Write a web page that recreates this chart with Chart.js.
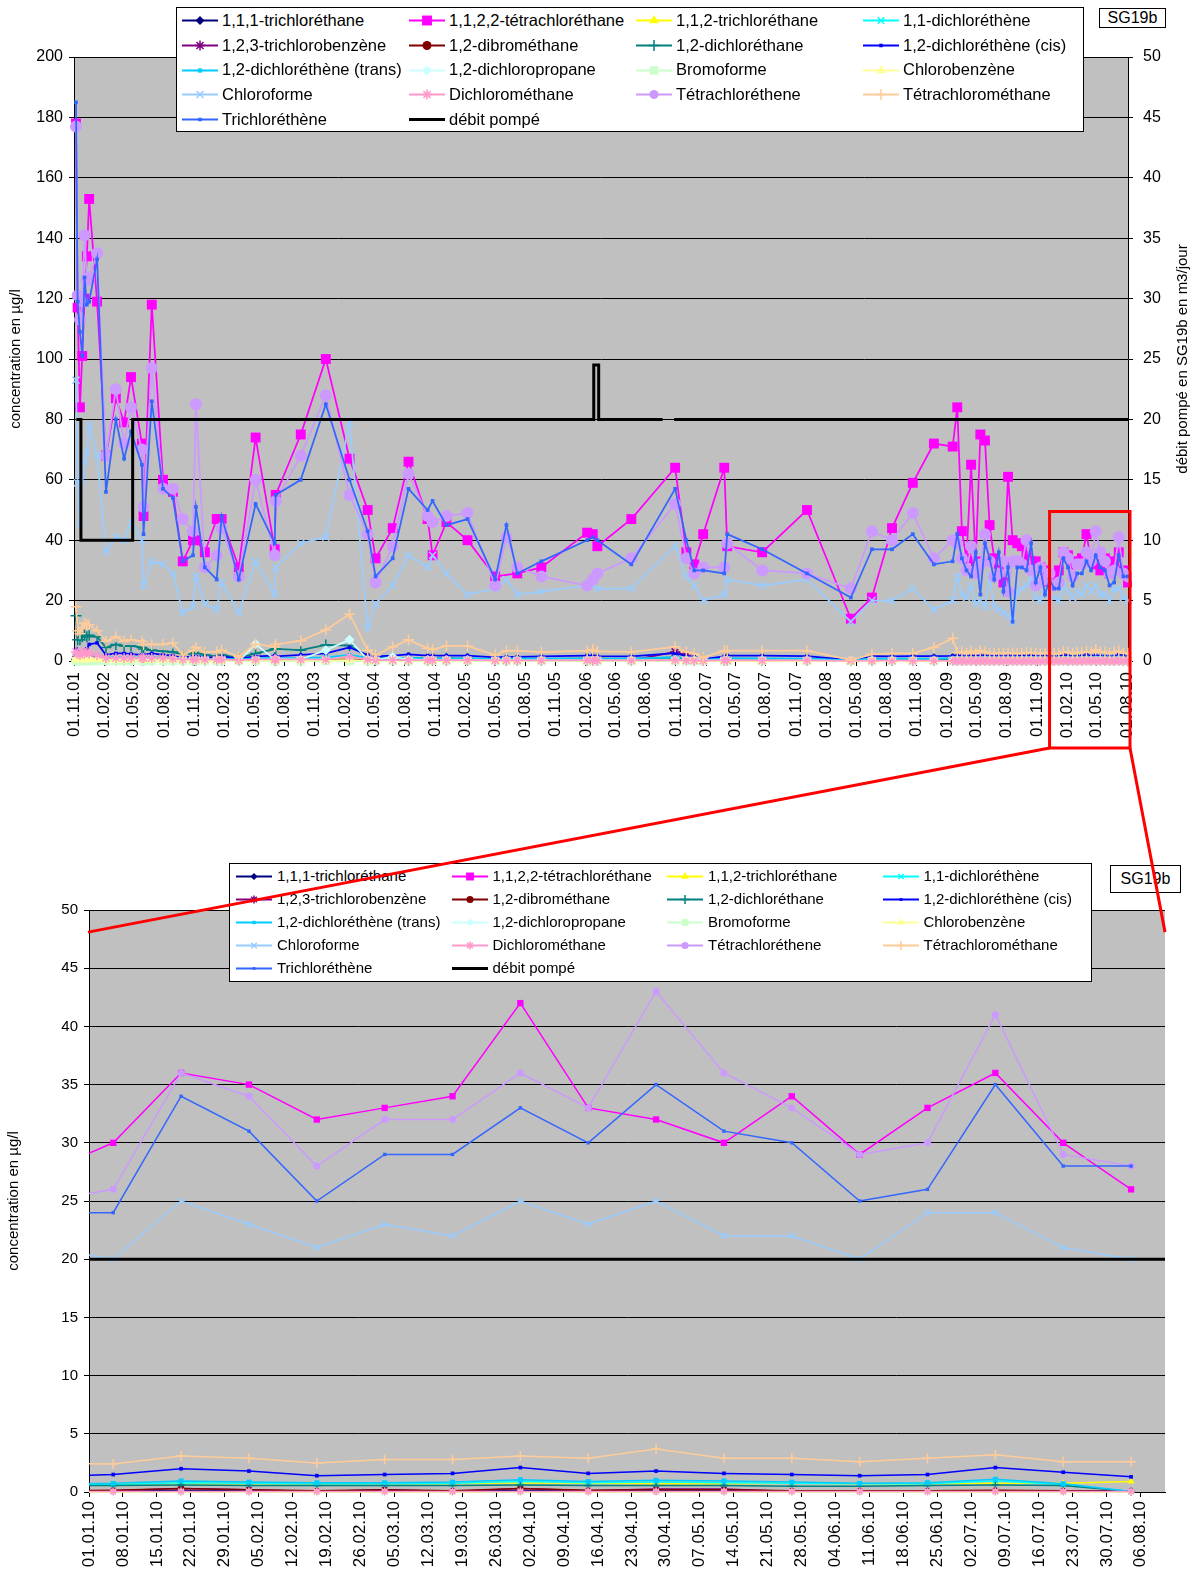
<!DOCTYPE html>
<html><head><meta charset="utf-8">
<script src="https://cdn.jsdelivr.net/npm/chart.js@4.4.1/dist/chart.umd.min.js"></script>
<style>
html,body{margin:0;padding:0;background:#fff;}
body{width:1195px;height:1573px;position:relative;overflow:hidden;font-family:"Liberation Sans",Arial,sans-serif;}
canvas.chart{position:absolute;left:0;}
#topc{top:0;}
#botc{top:840px;}
.legend{position:absolute;background:#fff;border:1px solid #000;box-sizing:border-box;display:grid;z-index:5;}
.item{display:flex;align-items:center;white-space:nowrap;color:#000;}
.item canvas{display:block;flex:none;}
.tag{position:absolute;border:1px solid #000;background:#fff;box-sizing:border-box;text-align:center;color:#000;font-size:16px;z-index:5;}
#overlay{position:absolute;left:0;top:0;pointer-events:none;z-index:10;}
#rtitle{position:absolute;width:400px;height:18px;line-height:18px;text-align:center;font-size:15px;color:#000;transform:rotate(-90deg);}
</style></head>
<body>
<canvas id="topc" class="chart" width="1195" height="760"></canvas>
<canvas id="botc" class="chart" width="1195" height="733"></canvas>
<div id="rtitle">débit pompé en SG19b en m3/jour</div>
<div id="legTop" class="legend"></div>
<div id="legBot" class="legend"></div>
<div class="tag" style="left:1099px;top:8px;width:67px;height:20px;line-height:18px;">SG19b</div>
<div class="tag" style="left:1110px;top:865px;width:71px;height:28px;line-height:26px;">SG19b</div>
<canvas id="overlay" width="1195" height="1573"></canvas>
<script>
// ---------------- DATA ----------------
const dates = [
 "07.11.01","12.11.01","19.11.01","26.11.01","03.12.01","10.12.01","17.12.01","10.01.02","06.02.02","08.03.02",
 "02.04.02","23.04.02","26.05.02","31.05.02","25.06.02","29.07.02","28.08.02","27.09.02","28.10.02","06.11.02",
 "03.12.02","08.01.03","23.01.03","16.03.03","06.05.03","03.07.03","06.07.03","20.09.03","05.12.03","15.02.04",
 "10.04.04","04.05.04","25.06.04","12.08.04","09.10.04","24.10.04","05.12.04","07.02.05","02.05.05","05.06.05",
 "08.07.05","19.09.05","05.02.06","22.02.06","08.03.06","19.06.06","30.10.06","03.12.06","27.12.06","23.01.07",
 "28.03.07","06.04.07","21.07.07","04.12.07","15.04.08","18.06.08","18.08.08","20.10.08","23.12.08",
 "18.02.09","04.03.09","18.03.09","01.04.09","15.04.09","29.04.09","13.05.09","27.05.09","10.06.09","24.06.09",
 "08.07.09","22.07.09","05.08.09","19.08.09","02.09.09","16.09.09","30.09.09","14.10.09","28.10.09","11.11.09",
 "25.11.09","09.12.09","23.12.09",
 "06.01.10","20.01.10","03.02.10","17.02.10","03.03.10","17.03.10","31.03.10","14.04.10","28.04.10","12.05.10",
 "26.05.10","09.06.10","23.06.10","07.07.10","21.07.10","04.08.10"
];

const tca111 = [
 1.0,0.6,0.5,0.5,0.6,0.6,0.7,0.7,0.3,0.4,
 0.4,0.4,0.3,0.3,0.3,0.3,0.3,0.2,0.2,0.2,
 0.2,0.2,0.2,0.1,0.2,0.2,0.2,0.2,0.3,0.5,
 0.2,0.1,0.2,0.2,0.2,0.2,0.2,0.2,0.1,0.1,
 0.1,0.1,0.2,0.2,0.2,0.1,0.3,0.2,0.1,0.1,
 0.1,0.2,0.2,0.1,0.05,0.1,0.1,0.1,0.1,
 0.1,0.1,0.1,0.1,0.1,0.1,0.1,0.1,0.1,0.1,
 0.1,0.1,0.1,0.1,0.1,0.1,0.1,0.1,0.1,0.1,
 0.1,0.1,0.1,
 0.1,0.1,0.1,0.1,0.1,0.1,0.1,0.1,0.1,0.1,
 0.1,0.1,0.1,0.1,0.1,0.1
];
const teca = [
 178,117,84,101,120,134,153,119,68,87,
 79,94,72,48,118,60,56,33,40,40,
 36,47,47,31,74,37,55,75,100,67,
 50,34,44,66,47,35,46,40,28,null,
 29,31,42.5,42,38,47,64,36,32,42,
 64,38,36,50,14,21,44,59,72,
 71,84,43,34,65,33,75,73,45,34,
 32,26,61,40,39,38,35,33,33,31,
 30,26,27.5,
 30,36,35,32,33,34,42,33,32,30,
 34,29,33,36,30,26
];
const tca112 = [
 0.8,0.6,0.6,0.6,0.7,0.7,0.8,0.8,0.5,0.6,
 0.6,0.6,0.5,0.5,0.6,0.5,0.5,0.4,0.4,0.5,
 0.4,0.4,0.5,0.3,0.5,0.5,0.5,0.5,0.6,1.0,
 0.5,0.4,0.5,0.5,0.5,0.5,0.5,0.5,0.4,0.4,
 0.4,0.4,0.5,0.5,0.5,0.4,0.7,0.5,0.4,0.3,
 0.5,0.5,0.5,0.5,0.1,0.5,0.5,0.5,0.6,
 0.7,0.6,0.6,0.6,0.7,0.6,0.7,0.7,0.6,0.6,
 0.7,0.7,0.7,0.7,0.7,0.7,0.7,0.7,0.7,0.7,
 0.7,0.7,0.7,
 0.7,0.7,0.7,0.7,0.7,0.7,0.8,0.75,0.7,0.7,
 0.75,0.7,0.7,0.75,0.75,0.9
];
const dce11 = [
 1.5,1.0,1.0,1.0,1.2,1.2,1.5,1.5,0.7,0.8,
 0.8,0.8,0.7,0.7,0.8,0.7,0.6,0.5,0.5,0.6,
 0.5,0.5,0.6,0.4,0.6,0.7,0.6,0.7,0.8,1.5,
 0.7,0.5,0.6,0.7,0.6,0.6,0.6,0.6,0.5,0.5,
 0.5,0.5,0.6,0.6,0.5,0.5,0.9,0.6,0.5,0.3,
 0.5,0.6,0.6,0.5,0.1,0.5,0.5,0.5,0.6,
 0.7,0.7,0.6,0.6,0.7,0.6,0.7,0.7,0.6,0.6,
 0.6,0.6,0.6,0.6,0.6,0.7,0.6,0.7,0.6,0.6,
 0.6,0.6,0.6,
 0.65,0.8,0.75,0.7,0.7,0.75,0.9,0.8,0.85,0.8,
 0.75,0.7,0.7,0.95,0.65,0.05
];
const tcb123 = [
 0.5,0.3,0.3,0.3,0.3,0.3,0.4,0.4,0.2,0.2,
 0.2,0.2,0.2,0.2,0.2,0.2,0.2,0.1,0.1,0.1,
 0.1,0.1,0.1,0.1,0.2,0.2,0.2,0.2,0.3,0.5,
 0.2,0.1,0.1,0.2,0.2,0.2,0.2,0.2,0.1,0.1,
 0.1,0.1,0.2,0.2,0.2,0.2,3.0,2.0,0.2,0.1,
 0.2,0.2,0.2,0.2,0.05,0.1,0.1,0.1,0.1,
 0.1,0.1,0.1,0.1,0.1,0.1,0.1,0.1,0.1,0.1,
 0.1,0.1,0.1,0.1,0.1,0.1,0.1,0.1,0.1,0.1,
 0.1,0.1,0.1,
 0.1,0.3,0.2,0.05,0.2,0.05,0.3,0.1,0.25,0.25,
 0.05,0.05,0.05,0.1,0.05,0.05
];
const dibromo = [
 0.3,0.2,0.2,0.2,0.2,0.2,0.3,0.3,0.15,0.15,
 0.15,0.15,0.15,0.15,0.15,0.15,0.15,0.1,0.1,0.1,
 0.1,0.1,0.1,0.1,0.15,0.15,0.15,0.15,0.2,0.3,
 0.15,0.1,0.1,0.15,0.1,0.1,0.1,0.1,0.1,0.1,
 0.1,0.1,0.1,0.1,0.1,0.1,0.2,0.1,0.1,0.05,
 0.1,0.1,0.1,0.1,0.05,0.1,0.1,0.1,0.1,
 0.1,0.1,0.1,0.1,0.1,0.1,0.1,0.1,0.1,0.1,
 0.1,0.1,0.1,0.1,0.1,0.1,0.1,0.1,0.1,0.1,
 0.1,0.1,0.1,
 0.15,0.3,0.2,0.1,0.2,0.1,0.3,0.15,0.2,0.2,
 0.1,0.1,0.1,0.15,0.1,0.05
];
const dca12 = [
 15,7,7,8,8.5,8,8.5,8,4.5,5.5,
 5,5,4.5,4,3.6,3.2,3,2,2.5,2.8,
 2,1.5,2,1,2.5,3.9,4,3.6,5.3,5.1,
 1.5,1,1,1,0.9,0.9,0.9,0.8,0.7,0.8,
 0.8,0.7,0.8,0.8,0.8,0.7,1.2,0.8,0.7,0.5,
 0.7,0.8,0.7,0.7,0.2,0.6,0.6,0.6,0.7,
 0.8,0.7,0.6,0.6,0.6,0.6,0.6,0.6,0.6,0.6,
 0.6,0.6,0.6,0.6,0.6,0.6,0.6,0.6,0.6,0.6,
 0.6,0.6,0.55,
 0.55,0.6,0.55,0.55,0.55,0.55,0.6,0.55,0.55,0.55,
 0.5,0.5,0.55,0.6,0.55,0.05
];
const dceCis = [
 4,3.5,3,3,3.5,4,5.5,6,2,2.5,
 2.5,2.3,2,2,2.5,2,1.8,1.2,1.5,1.5,
 1.3,1.2,1.5,0.8,1.5,1.8,1.5,2,2.5,4.5,
 2,1.5,1.8,2.2,1.8,1.8,1.8,1.8,1.2,1.4,
 1.4,1.5,1.8,1.8,1.6,1.5,2.6,1.6,1.4,0.6,
 1.5,1.8,1.8,1.6,0.3,1.6,1.5,1.6,1.6,
 1.7,1.8,1.6,1.5,1.7,1.6,1.8,1.7,1.6,1.5,
 1.6,1.5,1.6,1.5,1.6,1.7,1.6,1.8,1.6,1.5,
 1.6,1.5,1.3,
 1.5,2.0,1.8,1.4,1.5,1.6,2.1,1.6,1.8,1.6,
 1.5,1.4,1.5,2.1,1.7,1.3
];
const dceTrans = [
 2,1.5,1.5,1.5,1.8,1.8,2,2,1,1.2,
 1.2,1.1,1,1,1.1,1,0.9,0.7,0.8,0.8,
 0.7,0.7,0.8,0.5,0.9,1,0.9,1,1.2,2,
 1,0.8,0.9,1,0.9,0.9,0.9,0.9,0.7,0.8,
 0.8,0.8,0.9,0.9,0.8,0.8,1.3,0.9,0.8,0.4,
 0.8,0.9,0.9,0.8,0.2,0.8,0.8,0.8,0.8,
 0.9,0.9,0.8,0.8,0.9,0.8,0.9,0.9,0.8,0.8,
 0.8,0.8,0.8,0.8,0.8,0.9,0.8,0.9,0.8,0.8,
 0.8,0.8,0.7,
 0.75,0.95,0.85,0.8,0.8,0.85,1.05,0.9,1.0,0.95,
 0.85,0.75,0.8,1.1,0.7,0.05
];
const dcp12 = [
 0,0,0,0,0,0,0,0,0,0,
 0,0,0,0,0,0,0,0,0,0,
 0,0,0,0,5.6,0.5,0.5,0.5,3.6,7,
 0.5,0.3,1.4,0.5,0.3,0.3,0.3,0.3,0.2,0.2,
 0.2,0.2,0.2,0.2,0.2,0.2,0.3,0.2,0.2,0.1,
 0.2,0.2,0.2,0.2,0,0.1,0.1,0.1,0.1,
 0,0,0,0,0,0,0,0,0,0,
 0,0,0,0,0,0,0,0,0,0,
 0,0,0,
 0,0,0,0,0,0,0,0,0,0,
 0,0,0,0,0,0
];
const bromoforme = [
 0,0,0,0,0,0,0,0,0,0,
 0,0,0,0,0,0,0,0,0,0,
 0,0,0,0,0,0,0,0,0,0,
 0,0,0,0,0,0,0,0,0,0,
 0,0,0,0,0,0,0,0,0,0,
 0,0,0,0,0,0,0,0,0,
 0,0,0,0,0,0,0,0,0,0,
 0,0,0,0,0,0,0,0,0,0,
 0,0,0,
 0,0,0,0,0,0,0,0,0,0,
 0,0,0,0,0,0
];
const chlorobenzene = [
 0.6,0.5,0.5,0.5,0.5,0.5,0.6,0.6,0.3,0.3,
 0.3,0.3,0.3,0.3,0.3,0.3,0.3,0.2,0.2,0.2,
 0.2,0.2,0.2,0.1,0.2,0.2,0.2,0.2,0.2,0.3,
 0.1,0.1,0.1,0.1,0.1,0.1,0.1,0.1,0.1,0.1,
 0.1,0.1,0.1,0.1,0.1,0.1,0.1,0.1,0.1,0,
 0,0,0,0,0,0,0,0,0,
 0,0,0,0,0,0,0,0,0,0,
 0,0,0,0,0,0,0,0,0,0,
 0,0,0,
 0,0,0,0,0,0,0,0,0,0,
 0,0,0,0,0,0
];
const chloroforme = [
 93,59,45,60,66,69,78,68,36,41,
 40,46,40,25,33,32,29,16,18,28,
 19,17,26,16,33,22,31,39,41,79,
 11,19,25,35,31,35,29,22,24,27,
 22,23,25,25,24,24,38,28,25,20,
 22,27,25,27,13,20,20,24,17,
 20,28,22,21,25,19,20,18,28,18,
 17,16,15,13,23,24,25,28,21,20,
 24,22,21,
 20,25,23,21,23,22,25,23,25,22,
 22,20,24,24,21,20
];
const dcm = [
 3,2.5,2,3,2.5,3,2.5,2,1,1,
 1,1,1,1,1,1,0.8,0.5,0.5,0.5,
 0.5,0.5,0.5,0.3,0.5,0.5,0.5,0.5,0.5,1.5,
 0.5,0.3,0.3,0.3,0.3,0.3,0.3,0.3,0.2,0.2,
 0.2,0.2,0.2,0.2,0.2,0.2,0.3,0.2,0.2,0.1,
 0.2,0.2,0.2,0.2,0.05,0.1,0.1,0.1,0.1,
 0.05,0.05,0.05,0.05,0.05,0.05,0.05,0.05,0.05,0.05,
 0.05,0.05,0.05,0.05,0.05,0.05,0.05,0.05,0.05,0.05,
 0.05,0.05,0.05,
 0.05,0.05,0.05,0.05,0.05,0.05,0.05,0.05,0.05,0.05,
 0.05,0.05,0.05,0.05,0.05,0.05
];
const pce = [
 177,121,113,119,141,126,127,135,68,90,
 72,84,70,51,97,57,57,47,43,85,
 31,35,44,28,60,35,53,68,88,55,
 42,26,38,62,48,46,48,49,25,41,
 31,28,25,27,29,34,52,34,29,31,
 31,39,30,29,24,43,40,49,34,
 40,39,34,30,38,29,32,42,33,28,
 29,33,23,33,33,32,40,30,25,31,
 27,29,25,
 26,36,34,28,32,32,36,33,43,36,
 33,29,30,41,29,28
];
const ccl4 = [
 18,10,9,11,12.5,12,12,10,6.5,8,
 6.5,7,6.5,5.5,5.5,5.5,6,2,3.5,4.5,
 3,3,3.6,1.5,5.6,4.7,5.5,6.7,10.3,15.5,
 3.6,2,4.7,7,4.2,3.8,5,5,2,3.4,
 3.4,2.9,3.4,3.8,3.2,3,4.7,3,2.4,1.2,
 3.4,3.4,3.4,3.4,0.3,2.2,2.5,2.5,4.5,
 7.5,2.8,3,2.5,3.2,2.5,3.5,3,2.5,2.5,
 2.6,2.5,2.7,2.6,2.5,2.5,2.8,2.6,2.5,2.5,
 2.6,2.5,2.5,
 2.4,3.1,2.9,2.5,2.8,2.8,3.1,2.9,3.7,2.9,
 2.9,2.6,2.9,3.2,2.6,2.6
];
const tce = [
 185,119,109,101,127,118,119,133,56,80,
 67,76,65,42,86,57,54,33,35,51,
 31,27,48,27,52,39,55,60,85,60,
 43,28,34,57,50,53,45,47,27,45,
 29,33,40,41,40,32,57,40,30,30,
 29,42,37,29,21,37,37,42,32,
 33,42,34,30,28,36,22,39,34,27,
 36,23,31,13,31,31,30,39,26,31,
 22,27,24,
 24,34,31,25,29,29,33,30,35,31,
 30,25,26,35,28,28
];

// pumped flow (right axis), m3/jour
const debitDates = ["08.11.01","22.11.01","22.11.01","28.04.02","28.04.02","25.02.06","25.02.06","12.03.06","12.03.06","22.09.06","05.10.06","27.10.06","16.08.10"];
const debitVals  = [20,20,10,10,20,20,24.5,24.5,20,20,null,20,20];

const seriesNames = ["1,1,1-trichloréthane","1,1,2,2-tétrachloréthane","1,1,2-trichloréthane","1,1-dichloréthène",
 "1,2,3-trichlorobenzène","1,2-dibrométhane","1,2-dichloréthane","1,2-dichloréthène (cis)",
 "1,2-dichloréthène (trans)","1,2-dichloropropane","Bromoforme","Chlorobenzène",
 "Chloroforme","Dichlorométhane","Tétrachloréthene","Tétrachlorométhane","Trichloréthène"];
const seriesValues = [tca111,teca,tca112,dce11,tcb123,dibromo,dca12,dceCis,dceTrans,dcp12,bromoforme,chlorobenzene,chloroforme,dcm,pce,ccl4,tce];
const debitName = "débit pompé";

const topTickLabels = ["01.11.01","01.02.02","01.05.02","01.08.02","01.11.02","01.02.03","01.05.03","01.08.03","01.11.03",
 "01.02.04","01.05.04","01.08.04","01.11.04","01.02.05","01.05.05","01.08.05","01.11.05","01.02.06","01.05.06","01.08.06",
 "01.11.06","01.02.07","01.05.07","01.08.07","01.11.07","01.02.08","01.05.08","01.08.08","01.11.08","01.02.09","01.05.09",
 "01.08.09","01.11.09","01.02.10","01.05.10","01.08.10"];
const botTickLabels = ["01.01.10","08.01.10","15.01.10","22.01.10","29.01.10","05.02.10","12.02.10","19.02.10","26.02.10",
 "05.03.10","12.03.10","19.03.10","26.03.10","02.04.10","09.04.10","16.04.10","23.04.10","30.04.10","07.05.10","14.05.10",
 "21.05.10","28.05.10","04.06.10","11.06.10","18.06.10","25.06.10","02.07.10","09.07.10","16.07.10","23.07.10","30.07.10","06.08.10"];
const topRange = ["01.11.01","04.08.10"];
const botRange = ["01.01.10","11.08.10"];
const zoomStart = "09.12.09";   // left edge of the zoom frame
const zoomTopValue = 49.5;      // top of the zoom frame (µg/l)
const zoomLinkValue = 48.1;     // where the link lines meet the lower chart

// ---------------- STYLES ----------------
const styles = [
 {c:'#000080',p:'rectRot',rt:4.5,rb:3.5,lp:4.5},
 {c:'#FF00FF',p:'rect',rt:7,rb:4.5,lp:7},
 {c:'#FFFF00',p:'triangle',rt:5.5,rb:4,lp:5.5},
 {c:'#00FFFF',p:'crossRot',rt:4.5,rb:3.5,lp:4.5},
 {c:'#800080',p:'star',rt:5,rb:3.5,lp:5},
 {c:'#800000',p:'circle',rt:4,rb:3,lp:4.5},
 {c:'#008080',p:'cross',rt:5.5,rb:4,lp:5.5},
 {c:'#0000FF',p:'rect',rt:2.5,rb:2.6,lp:2.5},
 {c:'#00CCFF',p:'rect',rt:3,rb:3.5,lp:3},
 {c:'#CCFFFF',p:'rectRot',rt:5,rb:3.5,lp:5},
 {c:'#CCFFCC',p:'rect',rt:6,rb:4,lp:6},
 {c:'#FFFF99',p:'triangle',rt:5.5,rb:4,lp:5.5},
 {c:'#99CCFF',p:'crossRot',rt:5,rb:4,lp:5},
 {c:'#FF99CC',p:'star',rt:5,rb:4,lp:5},
 {c:'#CC99FF',p:'circle',rt:6,rb:3.5,lp:4.5},
 {c:'#FFCC99',p:'cross',rt:5.5,rb:5,lp:5.5},
 {c:'#3366FF',p:'rect',rt:2.6,rb:2.4,lp:2.5}
];
const FONT = '"Liberation Sans", Arial, sans-serif';
Chart.defaults.font.family = FONT;
Chart.defaults.color = '#000';

function toDay(s){ const [d,m,y] = s.split('.').map(Number); return Date.UTC(2000+y, m-1, d)/86400000; }
const strokeOnly = p => (p==='cross'||p==='crossRot'||p==='star'||p==='line');

function buildDatasets(isBottom){
  const N = seriesNames.length + 1;
  const ds = seriesNames.map((name,i) => {
    const st = styles[i];
    return {
      label: name,
      data: dates.map((d,j) => ({x: toDay(d), y: seriesValues[i][j]})),
      borderColor: st.c, backgroundColor: st.c,
      pointStyle: st.p, pointRadius: isBottom ? st.rb : st.rt,
      pointBorderColor: st.c, pointBackgroundColor: st.c,
      pointBorderWidth: strokeOnly(st.p) ? 1.5 : 0,
      borderWidth: isBottom ? 1.5 : 1.75,
      tension: 0, spanGaps: true, yAxisID: 'y',
      order: N - 1 - i,
      clip: isBottom ? {left:0,right:0,top:6,bottom:6} : {left:6,right:4,top:6,bottom:6}
    };
  });
  ds.push({
    label: debitName,
    data: debitDates.map((d,j) => ({x: toDay(d), y: debitVals[j]})),
    borderColor: '#000', backgroundColor: '#000', borderWidth: 3,
    pointRadius: 0, tension: 0, spanGaps: false, yAxisID: 'y2', order: 0,
    clip: {left:0,right:0,top:6,bottom:6}
  });
  return ds;
}

const bgPlugin = {
  id: 'plotbg',
  beforeDraw(chart){
    const a = chart.chartArea, ctx = chart.ctx;
    ctx.save(); ctx.fillStyle = '#C0C0C0';
    ctx.fillRect(a.left, a.top, a.right - a.left, a.bottom - a.top);
    ctx.restore();
  }
};

function xScaleOpts(labels, range, h, fontSize, pad){
  return {
    type: 'linear', min: toDay(range[0]), max: toDay(range[1]),
    afterBuildTicks: s => { s.ticks = labels.map(l => ({value: toDay(l)})); },
    afterFit: s => { s.height = h; },
    ticks: { autoSkip: false, minRotation: 90, maxRotation: 90, padding: pad,
             font: {size: fontSize}, color: '#000',
             callback: (v, i) => labels[i] },
    grid: { display: true, drawOnChartArea: false, drawTicks: true, tickLength: 5, color: '#000' },
    border: { display: true, color: '#000', width: 1 }
  };
}

const topChart = new Chart(document.getElementById('topc'), {
  type: 'line',
  data: { datasets: buildDatasets(false) },
  options: {
    responsive: false, animation: false, events: [],
    layout: { padding: { top: 57, left: 0, right: 0, bottom: 0 } },
    plugins: { legend: {display: false}, tooltip: {enabled: false} },
    scales: {
      x: xScaleOpts(topTickLabels, topRange, 99, 17, 6),
      y: { type: 'linear', position: 'left', min: 0, max: 200,
           afterFit: s => { s.width = 74; },
           ticks: { stepSize: 20, padding: 6, font: {size: 16}, color: '#000' },
           grid: { color: '#000', drawTicks: true, tickLength: 5 },
           border: { display: true, color: '#000' },
           title: { display: true, text: 'concentration en µg/l', font: {size: 15}, color: '#000', padding: {top: 7, bottom: 0} } },
      y2: { type: 'linear', position: 'right', min: 0, max: 50,
           afterFit: s => { s.width = 67; },
           ticks: { stepSize: 5, padding: 10, font: {size: 16}, color: '#000' },
           grid: { drawOnChartArea: false, drawTicks: true, tickLength: 5, color: '#000' },
           border: { display: true, color: '#000' } }
    }
  },
  plugins: [bgPlugin]
});

const botChart = new Chart(document.getElementById('botc'), {
  type: 'line',
  data: { datasets: buildDatasets(true) },
  options: {
    responsive: false, animation: false, events: [],
    layout: { padding: { top: 70, left: 0, right: 30, bottom: 0 } },
    plugins: { legend: {display: false}, tooltip: {enabled: false} },
    scales: {
      x: xScaleOpts(botTickLabels, botRange, 81, 17, 4),
      y: { type: 'linear', position: 'left', min: 0, max: 50,
           afterFit: s => { s.width = 89; },
           ticks: { stepSize: 5, padding: 6, font: {size: 15}, color: '#000' },
           grid: { color: '#000', drawTicks: true, tickLength: 5 },
           border: { display: true, color: '#000' },
           title: { display: true, text: 'concentration en µg/l', font: {size: 15}, color: '#000', padding: {top: 5, bottom: 0} } },
      y2: { type: 'linear', display: false, min: 0, max: 50 }
    }
  },
  plugins: [bgPlugin]
});

// right axis title (reads bottom-to-top)
(function(){
  const a = topChart.chartArea;
  const el = document.getElementById('rtitle');
  const cx = 1182, cy = (a.top + a.bottom) / 2;
  el.style.left = (cx - 200) + 'px';
  el.style.top = (cy - 9) + 'px';
})();

// ---------------- LEGENDS ----------------
function drawMarker(ctx, p, x, y, r, color){
  ctx.save();
  ctx.fillStyle = color; ctx.strokeStyle = color; ctx.lineWidth = 1.5;
  ctx.beginPath();
  const d = r * Math.SQRT1_2;
  switch(p){
    case 'circle': ctx.arc(x, y, r, 0, Math.PI*2); ctx.fill(); break;
    case 'rect': ctx.rect(x-d, y-d, 2*d, 2*d); ctx.fill(); break;
    case 'rectRot': ctx.moveTo(x, y-r); ctx.lineTo(x+r, y); ctx.lineTo(x, y+r); ctx.lineTo(x-r, y); ctx.closePath(); ctx.fill(); break;
    case 'triangle': ctx.moveTo(x, y-r); ctx.lineTo(x+r*0.866, y+r*0.5); ctx.lineTo(x-r*0.866, y+r*0.5); ctx.closePath(); ctx.fill(); break;
    case 'cross': ctx.moveTo(x, y-r); ctx.lineTo(x, y+r); ctx.moveTo(x-r, y); ctx.lineTo(x+r, y); ctx.stroke(); break;
    case 'crossRot': ctx.moveTo(x-d, y-d); ctx.lineTo(x+d, y+d); ctx.moveTo(x+d, y-d); ctx.lineTo(x-d, y+d); ctx.stroke(); break;
    case 'star': ctx.moveTo(x, y-r); ctx.lineTo(x, y+r); ctx.moveTo(x-r, y); ctx.lineTo(x+r, y);
                 ctx.moveTo(x-d, y-d); ctx.lineTo(x+d, y+d); ctx.moveTo(x+d, y-d); ctx.lineTo(x-d, y+d); ctx.stroke(); break;
  }
  ctx.restore();
}

function buildLegend(el, opt){
  el.style.left = opt.left + 'px'; el.style.top = opt.top + 'px';
  el.style.width = opt.width + 'px'; el.style.height = opt.height + 'px';
  el.style.gridTemplateColumns = `repeat(4, ${opt.col}px)`;
  el.style.gridAutoRows = opt.row + 'px';
  el.style.paddingLeft = opt.padL + 'px';
  el.style.fontSize = opt.font + 'px';
  const entries = seriesNames.map((n,i) => ({name: n, st: styles[i]}));
  entries.push({name: debitName, st: null});
  entries.forEach(e => {
    const it = document.createElement('div'); it.className = 'item';
    const cv = document.createElement('canvas');
    cv.width = opt.sym; cv.height = 16;
    const ctx = cv.getContext('2d');
    const y = 8.5, x0 = opt.lx0, x1 = opt.lx1, xm = (x0 + x1) / 2;
    ctx.beginPath(); ctx.moveTo(x0, y); ctx.lineTo(x1, y);
    if (e.st) {
      ctx.strokeStyle = e.st.c; ctx.lineWidth = 2; ctx.stroke();
      drawMarker(ctx, e.st.p, xm, y, e.st.lp * opt.scale, e.st.c);
    } else {
      ctx.strokeStyle = '#000'; ctx.lineWidth = 3; ctx.stroke();
    }
    it.appendChild(cv);
    const sp = document.createElement('span'); sp.textContent = e.name;
    it.appendChild(sp);
    el.appendChild(it);
  });
}
buildLegend(document.getElementById('legTop'), {left:176, top:7, width:908, height:125, col:227, row:24.7, padL:3, font:16.5, sym:42, lx0:2, lx1:38, scale:1});
buildLegend(document.getElementById('legBot'), {left:229, top:863, width:863, height:119, col:215.5, row:23, padL:3, font:15, sym:44, lx0:3, lx1:39, scale:0.8});

// ---------------- ZOOM FRAME ----------------
(function(){
  const ov = document.getElementById('overlay').getContext('2d');
  const botTop = 840;
  const ta = topChart.chartArea, ba = botChart.chartArea;
  const L = topChart.scales.x.getPixelForValue(toDay(zoomStart));
  const R = ta.right + 2;
  const T = topChart.scales.y.getPixelForValue(zoomTopValue);
  const B = ta.bottom + 87;
  const yLink = botTop + botChart.scales.y.getPixelForValue(zoomLinkValue);
  ov.strokeStyle = '#FF0000'; ov.lineWidth = 3;
  ov.strokeRect(L, T, R - L, B - T);
  ov.beginPath();
  ov.moveTo(L, B); ov.lineTo(ba.left - 1, yLink);
  ov.moveTo(R, B); ov.lineTo(ba.right, yLink);
  ov.stroke();
})();
</script>
</body></html>
